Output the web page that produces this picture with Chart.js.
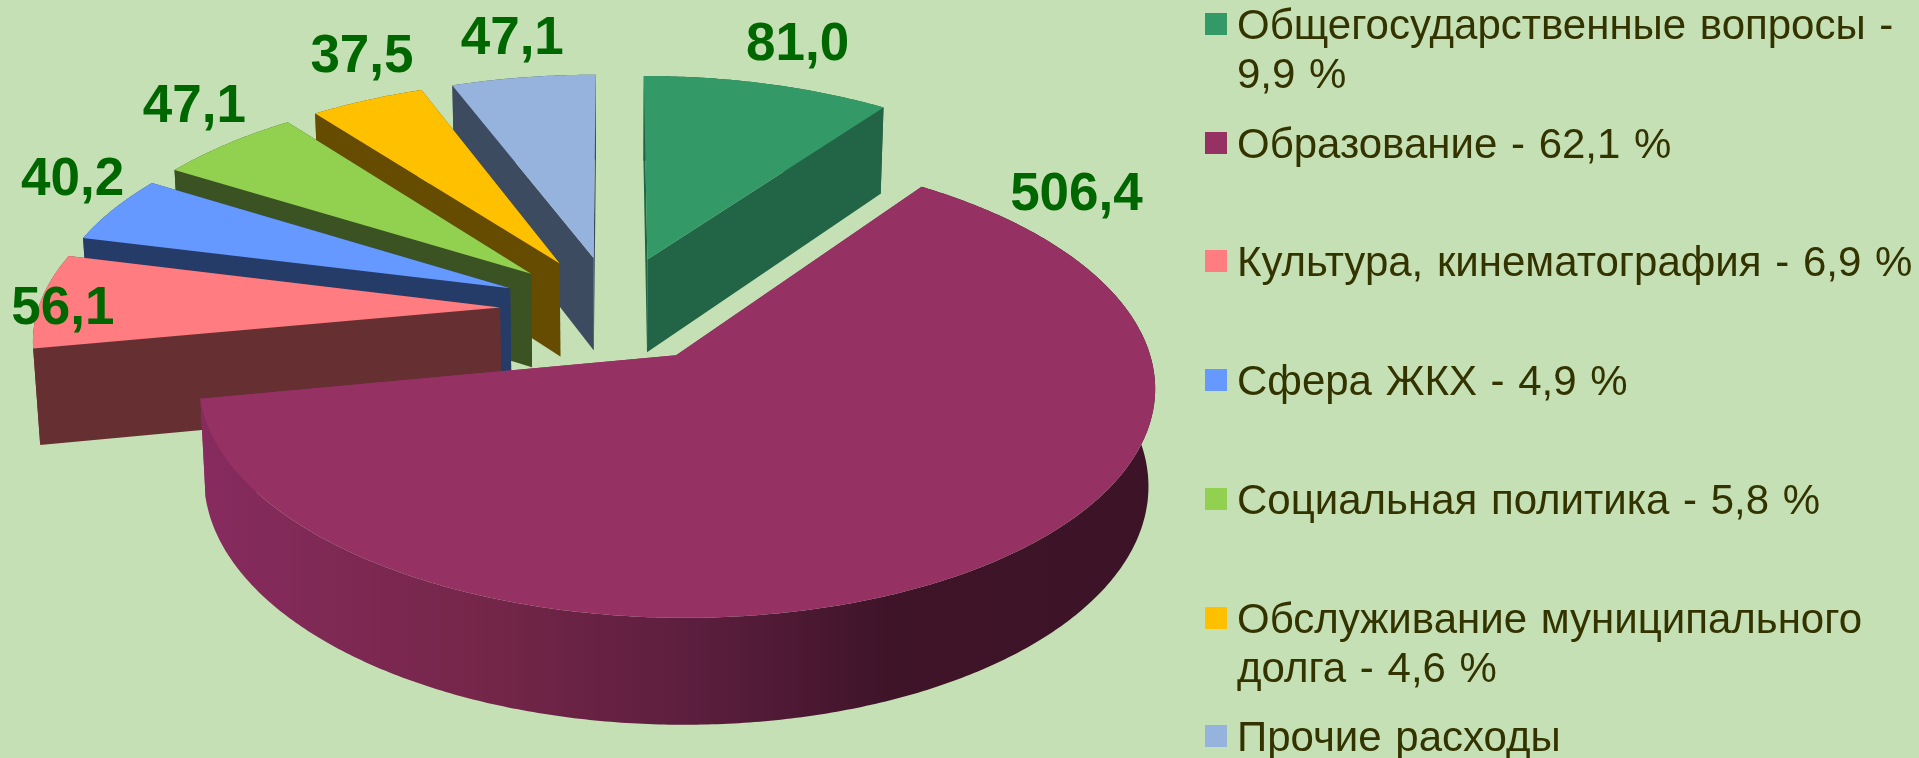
<!DOCTYPE html>
<html>
<head>
<meta charset="utf-8">
<style>
  html, body { margin: 0; padding: 0; background: #c5e0b5; overflow: hidden; }
  #wrap { position: relative; width: 1919px; height: 758px; }
  #myChart { position: absolute; left: 0; top: 0; }
  .item { position: absolute; left: 1205px; width: 712px; font: 42px/49px "Liberation Sans", Arial, sans-serif; color: #333300; padding-left: 32px; box-sizing: border-box; word-spacing: 2px; }
  .item i { position: absolute; left: 0; top: 13px; width: 22px; height: 22px; }
</style>
</head>
<body>
<div id="wrap">
  <canvas id="myChart" width="1919" height="758"></canvas>
  <div id="legend"></div>
</div>
<script src="https://cdn.jsdelivr.net/npm/chart.js@4/dist/chart.umd.js"></script>
<script>
var categories = ["Общегосударственные вопросы", "Образование", "Культура, кинематография", "Сфера ЖКХ", "Социальная политика", "Обслуживание муниципального долга", "Прочие расходы"]
var values = [81.0, 506.4, 56.1, 40.2, 47.1, 37.5, 47.1]
var shares = ["9,9", "62,1", "6,9", "4,9", "5,8", "4,6", null]
var valueLabels = ["81,0", "506,4", "56,1", "40,2", "47,1", "37,5", "47,1"]

var topColors = ["#339966", "#953163", "#ff7c80", "#6699ff", "#92d050", "#ffc000", "#95b3dd"]
var wallColors = ["#216546", "#953163", "#663033", "#263c68", "#3b5323", "#664c00", "#3d4b60"]
var labelShift = [[30, -39], [108, -377], [22, 8], [-41, -29], [-33, -36], [-5, -43], [-11, -38]]

// perspective of the pie plane, disc radius = 1
var cam = { cx: 613.5, cy: 309, a: 462, b: 217.6, c: 96, k: 0.1235, m: 0.012 }

function project(x, y, z) {
    var w = 1 + cam.k * y - cam.m * z
    return { x: cam.cx + cam.a * x / w, y: cam.cy - (cam.b * y + cam.c * z) / w }
}

function tracePath(ctx, pts) {
    ctx.beginPath()
    pts.forEach(function (p, i) {
        if (i == 0) ctx.moveTo(p.x, p.y)
        else ctx.lineTo(p.x, p.y)
    })
    ctx.closePath()
}

class Arc3d extends Chart.ArcElement {
    geometry() {
        var p = this.getProps(["startAngle", "endAngle", "outerRadius"], true)
        var mid = (p.startAngle + p.endAngle) / 2
        var e = this.options.offset / p.outerRadius
        return { start: p.startAngle, end: p.endAngle, mid: mid, ox: Math.cos(mid) * e, oy: -Math.sin(mid) * e }
    }

    rimPoints(z) {
        var g = this.geometry()
        var steps = Math.ceil((g.end - g.start) / 0.01)
        var pts = []
        for (var i = 0; i <= steps; i++) {
            var a = g.start + (g.end - g.start) * i / steps
            pts.push(project(g.ox + Math.cos(a), g.oy - Math.sin(a), z))
        }
        return pts
    }

    labelAnchor() {
        var g = this.geometry()
        return project(g.ox + Math.cos(g.mid), g.oy - Math.sin(g.mid), 0)
    }

    draw(ctx) {
        var g = this.geometry()
        var apexTop = project(g.ox, g.oy, 0)
        var apexBottom = project(g.ox, g.oy, -1)
        var rimTop = this.rimPoints(0)
        var rimBottom = this.rimPoints(-1)
        var last = rimTop.length - 1

        ctx.save()
        ctx.fillStyle = this.options.wallColor
        tracePath(ctx, [apexTop, rimTop[0], rimBottom[0], apexBottom])
        ctx.fill()
        tracePath(ctx, [apexTop, rimTop[last], rimBottom[last], apexBottom])
        ctx.fill()

        // outer wall, the big slice gets the dark sweep
        if (this.options.sweep) {
            var grad = ctx.createLinearGradient(205, 0, 1150, 0)
            grad.addColorStop(0, "#872b5e")
            grad.addColorStop(0.3, "#742649")
            grad.addColorStop(0.52, "#5c1e3e")
            grad.addColorStop(0.72, "#3f1429")
            grad.addColorStop(1, "#3c1327")
            ctx.fillStyle = grad
        }
        tracePath(ctx, rimTop.concat(rimBottom.slice().reverse()))
        ctx.fill()

        ctx.fillStyle = this.options.backgroundColor
        tracePath(ctx, [apexTop].concat(rimTop))
        ctx.fill()
        ctx.restore()
    }
}
Arc3d.id = "arc3d"
Arc3d.defaults = Object.assign({}, Chart.ArcElement.defaults, { wallColor: "#333333", sweep: false })
Arc3d.defaultRoutes = Chart.ArcElement.defaultRoutes

class Pie3dController extends Chart.PieController {
    draw() {
        var ctx = this._ctx
        var arcs = this._cachedMeta.data.slice()
        // back slices first so the front ones cover them
        arcs.sort(function (p, q) { return q.geometry().oy - p.geometry().oy })
        arcs.forEach(function (arc) { arc.draw(ctx) })
    }
}
Pie3dController.id = "pie3d"
Pie3dController.defaults = { dataElementType: "arc3d" }
Pie3dController.overrides = Chart.PieController.overrides

Chart.register(Arc3d, Pie3dController)

var valueLabelPlugin = {
    id: "valueLabels",
    afterDatasetsDraw: function (chart) {
        var ctx = chart.ctx
        ctx.save()
        ctx.font = "bold 53px 'Liberation Sans', Arial, sans-serif"
        ctx.fillStyle = "#006600"
        ctx.textAlign = "center"
        ctx.textBaseline = "middle"
        chart.getDatasetMeta(0).data.forEach(function (arc, i) {
            var p = arc.labelAnchor()
            ctx.fillText(valueLabels[i], p.x + labelShift[i][0], p.y + labelShift[i][1])
        })
        ctx.restore()
    }
}

var myChart = document.getElementById("myChart").getContext("2d")
var chart = new Chart(myChart, {
    type: "pie3d",
    data: {
        labels: categories,
        datasets: [{
            data: values,
            backgroundColor: topColors,
            wallColor: wallColors,
            sweep: function (c) { return c.dataIndex == 1 },
            borderWidth: 0,
            offset: 83
        }]
    },
    options: {
        responsive: false,
        animation: false,
        events: [],
        plugins: { legend: { display: false }, tooltip: { enabled: false } }
    },
    plugins: [valueLabelPlugin]
})

var legend = document.getElementById("legend")
categories.forEach(function (name, i) {
    var item = document.createElement("div")
    item.className = "item"
    item.style.top = (i * 118.7) + "px"
    var box = document.createElement("i")
    box.style.background = topColors[i]
    item.appendChild(box)
    item.appendChild(document.createTextNode(shares[i] ? name + " - " + shares[i] + " %" : name))
    legend.appendChild(item)
})
</script>
</body>
</html>
